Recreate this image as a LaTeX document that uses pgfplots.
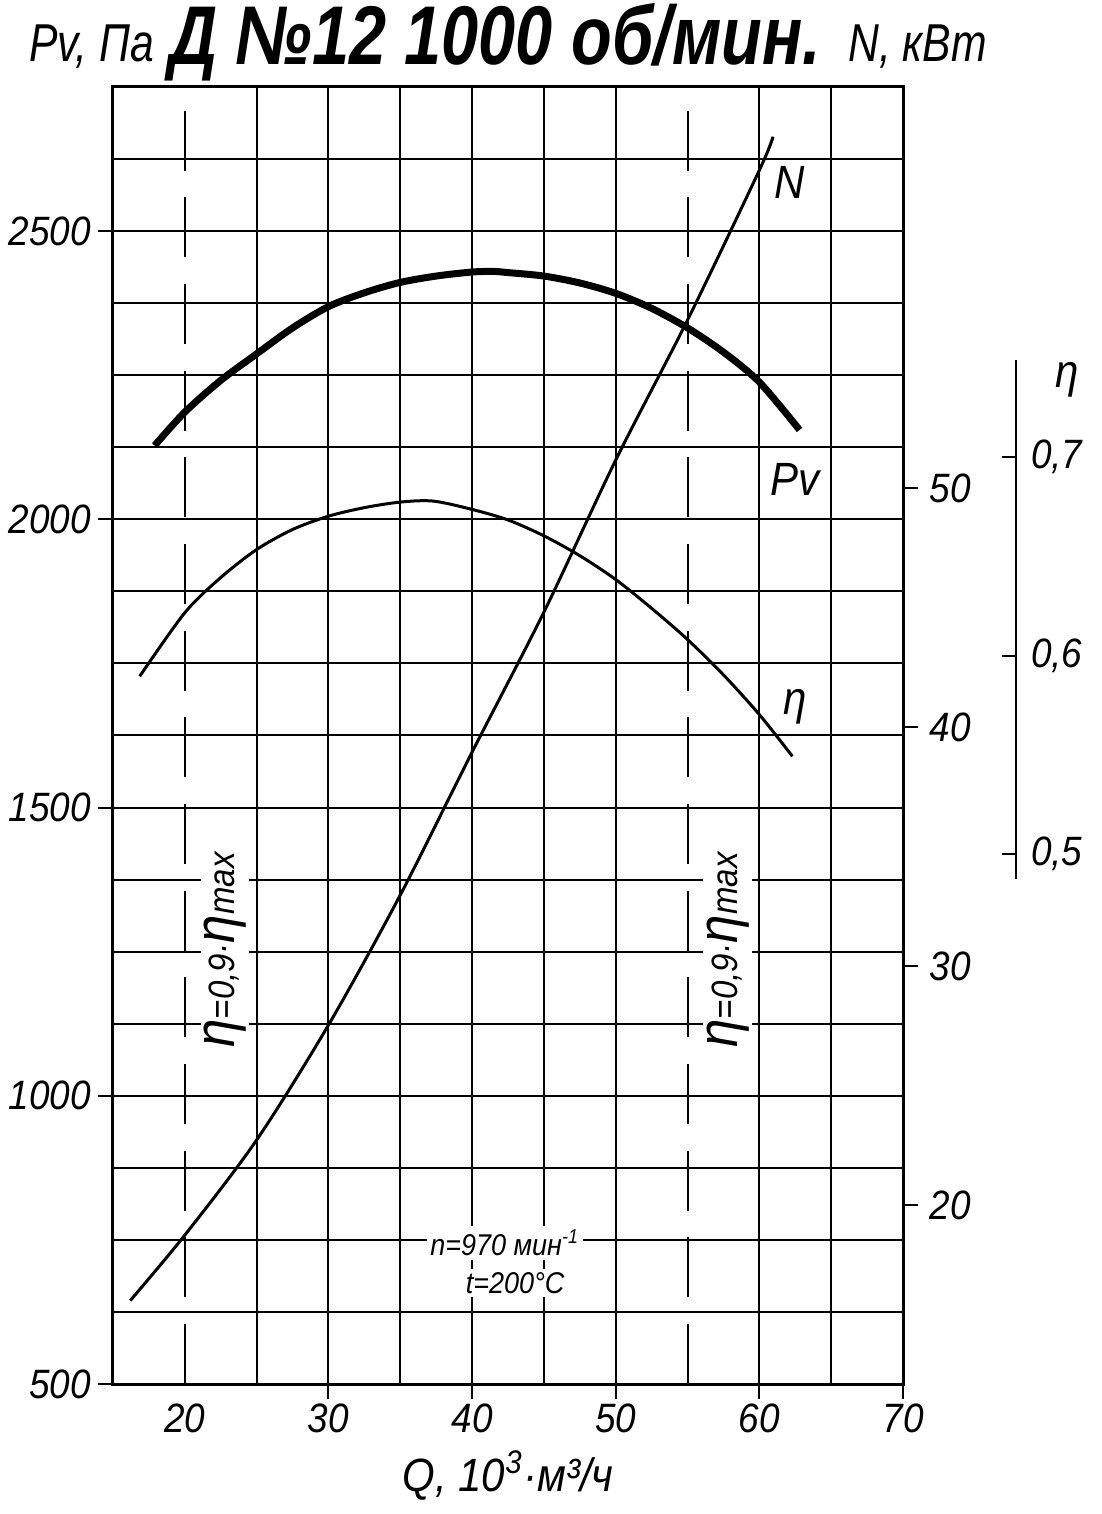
\documentclass[border=0pt]{standalone}
\usepackage{pgfplots}
\pgfplotsset{compat=1.18}
\usepackage{fontspec}
\setmainfont{Liberation Sans}[FakeStretch=0.9]
\newfontfamily\narrow{Liberation Sans}[FakeStretch=0.8]
\newcommand{\lbl}{\fontsize{12.3}{14}\selectfont\itshape}

% 1 px of the reference = 0.3pt
\pgfplotstableread{
Q Pv
17.9 2128
20 2186
22.5 2241
25 2287
27.5 2332
30 2369
32.5 2393
35 2411
37.5 2422
40 2429
41.5 2430
42.5 2428
45 2422
47.5 2410
50 2392
52.5 2366
55 2332
57.5 2290
60 2238
62.8 2155
}\pvdata

\pgfplotstableread{
Q eta
16.86 0.5893
20 0.6213
22.5 0.6390
25 0.6531
27.5 0.6632
30 0.6699
32.5 0.6742
35 0.6770
37.3 0.6775
40 0.6733
42.5 0.6680
45 0.6600
47.5 0.6500
50 0.638
52.5 0.6235
55 0.6078
57.5 0.5900
60 0.570
62.3 0.549
}\etadata

\pgfplotstableread{
Q N
16.2 16.0
20 18.74
25 22.72
30 27.53
35 32.97
40 38.95
45 44.81
50 51.17
55 57.03
60 63.3
60.95 64.7
}\ndata

\begin{document}
\begin{tikzpicture}
\pgfplotsset{
  every axis/.append style={
    scale only axis, width=237pt, height=389.1pt,
    xmin=15, xmax=70,
    font=\lbl,
    /pgf/number format/assume math mode=true,
    /pgf/number format/1000 sep={},
    tick align=outside, major tick length=4.5pt, minor tick length=0pt,
    tick style={black, line width=0.6pt},
  },
}
% main axis: Pv
\begin{axis}[
  name=main, clip=false,
  axis line style={line width=0.9pt},
  ymin=500, ymax=2750,
  xtick pos=bottom, ytick pos=left,
  xtick={30,40,50,60,70}, minor xtick={25,35,45,65},
  extra x ticks={20,55}, extra x tick labels={20,{}},
  extra x tick style={grid=major, major tick length=0pt,
    xticklabel style={yshift=-4.5pt},
    major grid style={black, line width=0.6pt, dash pattern=on 18pt off 8pt}},
  ytick={500,1000,...,2500}, minor ytick={625,750,...,2625},
  grid=both,
  major grid style={black, line width=0.6pt},
  minor grid style={black, line width=0.6pt},
  yticklabel style={xshift=1.4pt},
  xticklabel style={yshift=2pt},
  xlabel={\fontsize{14}{16}\selectfont Q,\ 10\textsuperscript{3}·м³/ч},
  xlabel style={yshift=6pt},
]
\addplot[black, line width=2.1pt, smooth] table[x=Q, y=Pv] {\pvdata};

\node[fill=white, inner sep=1pt, font=\fontsize{14}{16}\selectfont\itshape] at (axis cs:62.13,2585) {N};
\node[font=\fontsize{14}{16}\selectfont\itshape] at (axis cs:62.48,2069) {Pv};
\node[font=\fontsize{14}{16}\selectfont\itshape] at (axis cs:62.48,1675) {η};

\node[rotate=90, fill=white, inner sep=1pt] at (axis cs:22.8,1253)
  {{\fontsize{17}{17}\selectfont η}{\fontsize{11}{12}\selectfont =0,9·}{\fontsize{17}{17}\selectfont η}{\fontsize{11}{12}\selectfont max}};
\node[rotate=90, fill=white, inner sep=1pt] at (axis cs:57.8,1253)
  {{\fontsize{17}{17}\selectfont η}{\fontsize{11}{12}\selectfont =0,9·}{\fontsize{17}{17}\selectfont η}{\fontsize{11}{12}\selectfont max}};

\node[fill=white, inner sep=1pt, font=\fontsize{9}{10}\selectfont\itshape] at (axis cs:42.29,745) {n=970 мин\textsuperscript{-1}};
\node[fill=white, inner sep=1pt, font=\fontsize{9}{10}\selectfont\itshape] at (axis cs:43.0,675) {t=200°C};

\node[anchor=base east, inner sep=0pt, font=\fontsize{16}{18}\selectfont\narrow\itshape] at (rel axis cs:0.053,1.0193) {Pv, Па};
\node[anchor=base, inner sep=0pt, font=\fontsize{25}{27}\selectfont\narrow\bfseries\itshape] at (rel axis cs:0.4835,1.017) {Д №12 1000 об/мин.};
\node[anchor=base west, inner sep=0pt, font=\fontsize{16}{18}\selectfont\narrow\itshape] at (rel axis cs:0.930,1.0193) {N, кВт};

\node[font=\fontsize{14}{16}\selectfont\itshape] at (rel axis cs:1.2076,0.774) {η};
\end{axis}

% N axis on the right
\begin{axis}[
  at={(main.south west)}, anchor=south west,
  axis x line=none, axis y line*=right,
  axis line style={line width=0.9pt, -},
  ymin=12.51, ymax=66.78,
  ytick={20,30,40,50},
  yticklabel style={xshift=0pt},
]
\addplot[black, line width=0.9pt, smooth] table[x=Q, y=N] {\ndata};
\end{axis}

% eta curve
\begin{axis}[
  at={(main.south west)}, anchor=south west,
  hide axis,
  ymin=0.233, ymax=0.886,
]
\addplot[black, line width=0.9pt, smooth] table[x=Q, y=eta] {\etadata};
\end{axis}

% eta scale
\begin{axis}[
  at={(269.9pt,151.5pt)}, anchor=south west,
  width=1pt, height=155.7pt,
  xmin=0, xmax=1,
  axis x line=none, axis y line=right,
  axis line style={line width=0.6pt, -},
  ymin=0.4874, ymax=0.7489,
  ytick={0.5,0.6,0.7}, yticklabels={{0,5},{0,6},{0,7}},
  tick align=inside,
  major tick length=4.2pt,
  yticklabel style={xshift=1pt},
]
\end{axis}

% page = the reference's frame (1102 x 1514 px at 0.3pt/px)
\pgfresetboundingbox
\path ([shift={(-33.9pt,-39pt)}]main.south west) ([shift={(59.7pt,26.1pt)}]main.north east);
\end{tikzpicture}
\end{document}
